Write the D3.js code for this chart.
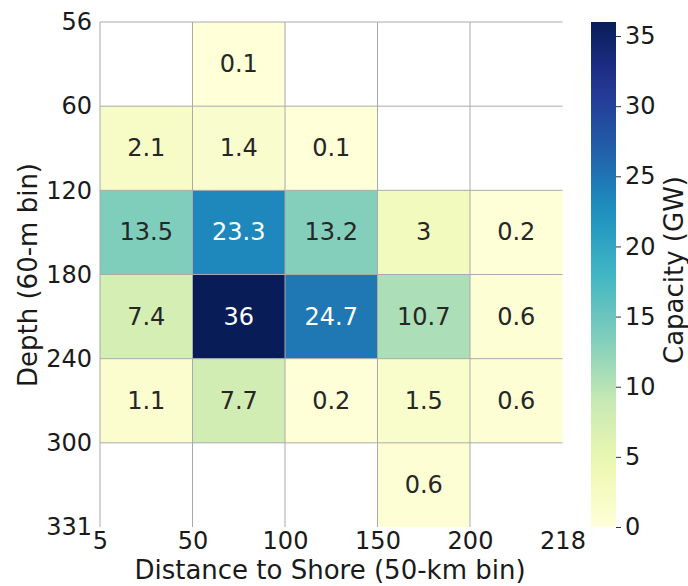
<!DOCTYPE html>
<html>
<head>
<meta charset="utf-8">
<script src="https://cdn.jsdelivr.net/npm/d3@7"></script>
<style>
  body { margin: 0; background: #fff; }
  svg text { font-family: "DejaVu Sans", sans-serif; }
</style>
</head>
<body>
<svg id="chart" width="688" height="586"></svg>
<script>
// bin edges shown as tick labels
const distEdges = ["5", "50", "100", "150", "200", "218"];
const depthEdges = ["56", "60", "120", "180", "240", "300", "331"];

// capacity (GW) per depth row, per distance column; null = no data
const row56 = [null, 0.1, null, null, null];
const row60 = [2.1, 1.4, 0.1, null, null];
const row120 = [13.5, 23.3, 13.2, 3, 0.2];
const row180 = [7.4, 36, 24.7, 10.7, 0.6];
const row240 = [1.1, 7.7, 0.2, 1.5, 0.6];
const row300 = [null, null, null, 0.6, null];
const rows = [row56, row60, row120, row180, row240, row300];

const colorTicks = [0, 5, 10, 15, 20, 25, 30, 35];
const vmax = 36;

const svg = d3.select("#chart");
const plotL = 100, plotR = 562.5, plotT = 22, plotB = 527;

const x = d3.scaleLinear().domain([0, distEdges.length - 1]).range([plotL, plotR]);
const y = d3.scaleLinear().domain([0, depthEdges.length - 1]).range([plotT, plotB]);

// matplotlib-like YlGnBu: piecewise linear through the 9 brewer colours
const brewer = d3.schemeYlGnBu[9];
const color = d3.scaleLinear()
  .domain(brewer.map((c, i) => vmax * i / (brewer.length - 1)))
  .range(brewer)
  .interpolate(d3.interpolateRgb);

// flatten cells
const cells = [];
rows.forEach((r, i) => r.forEach((v, j) => {
  if (v !== null) cells.push({ row: i, col: j, value: v });
}));

svg.append("g").selectAll("rect")
  .data(cells)
  .enter().append("rect")
  .attr("x", d => x(d.col))
  .attr("y", d => y(d.row))
  .attr("width", d => x(d.col + 1) - x(d.col))
  .attr("height", d => y(d.row + 1) - y(d.row))
  .attr("fill", d => color(d.value));

// grid lines (last edge not drawn)
const grid = svg.append("g").attr("stroke", "#aaaaaa").attr("stroke-width", 1);
d3.range(distEdges.length - 1).forEach(i => {
  grid.append("line")
    .attr("x1", x(i)).attr("x2", x(i))
    .attr("y1", plotT).attr("y2", plotB);
});
d3.range(depthEdges.length - 1).forEach(i => {
  grid.append("line")
    .attr("x1", plotL).attr("x2", plotR)
    .attr("y1", y(i)).attr("y2", y(i));
});

// annotations
svg.append("g").selectAll("text")
  .data(cells)
  .enter().append("text")
  .attr("x", d => (x(d.col) + x(d.col + 1)) / 2)
  .attr("y", d => (y(d.row) + y(d.row + 1)) / 2)
  .attr("text-anchor", "middle")
  .attr("dominant-baseline", "central")
  .attr("font-size", 24)
  .attr("fill", d => d.value > 20 ? "#ffffff" : "#262626")
  .text(d => d.value);

// axes
const xAxis = svg.append("g")
  .attr("transform", "translate(0," + plotB + ")")
  .call(d3.axisBottom(x)
    .tickValues(d3.range(distEdges.length))
    .tickFormat(i => distEdges[i])
    .tickSize(0).tickPadding(5));
xAxis.select(".domain").remove();
xAxis.selectAll("text").attr("font-size", 24).attr("fill", "#1a1a1a")
  .style("font-family", "DejaVu Sans");

const yAxis = svg.append("g")
  .attr("transform", "translate(" + plotL + ",0)")
  .call(d3.axisLeft(y)
    .tickValues(d3.range(depthEdges.length))
    .tickFormat(i => depthEdges[i])
    .tickSize(0).tickPadding(8));
yAxis.select(".domain").remove();
yAxis.selectAll("text").attr("font-size", 24).attr("fill", "#1a1a1a")
  .style("font-family", "DejaVu Sans");

svg.append("text")
  .attr("x", 330)
  .attr("y", 579)
  .attr("text-anchor", "middle")
  .attr("font-size", 26)
  .attr("fill", "#1a1a1a")
  .text("Distance to Shore (50-km bin)");

svg.append("text")
  .attr("transform", "translate(37,275) rotate(-90)")
  .attr("text-anchor", "middle")
  .attr("font-size", 26)
  .attr("fill", "#1a1a1a")
  .text("Depth (60-m bin)");

// colorbar
const cbX = 591, cbW = 25;
const cy = d3.scaleLinear().domain([0, vmax]).range([plotB, plotT]);
const defs = svg.append("defs");
const grad = defs.append("linearGradient")
  .attr("id", "cbgrad")
  .attr("x1", 0).attr("y1", 1).attr("x2", 0).attr("y2", 0);
d3.range(0, 1.0001, 0.05).forEach(t => {
  grad.append("stop").attr("offset", t).attr("stop-color", color(t * vmax));
});
svg.append("rect")
  .attr("x", cbX).attr("y", plotT)
  .attr("width", cbW).attr("height", plotB - plotT)
  .attr("fill", "url(#cbgrad)");

const cAxis = svg.append("g")
  .attr("transform", "translate(" + (cbX + cbW) + ",0)")
  .call(d3.axisRight(cy).tickValues(colorTicks).tickSize(5).tickPadding(4));
cAxis.select(".domain").remove();
cAxis.selectAll("line").attr("stroke", "#333");
cAxis.selectAll("text").attr("font-size", 24).attr("fill", "#1a1a1a")
  .style("font-family", "DejaVu Sans");

svg.append("text")
  .attr("transform", "translate(683,270) rotate(-90)")
  .attr("text-anchor", "middle")
  .attr("font-size", 26)
  .attr("fill", "#1a1a1a")
  .text("Capacity (GW)");
</script>
</body>
</html>
